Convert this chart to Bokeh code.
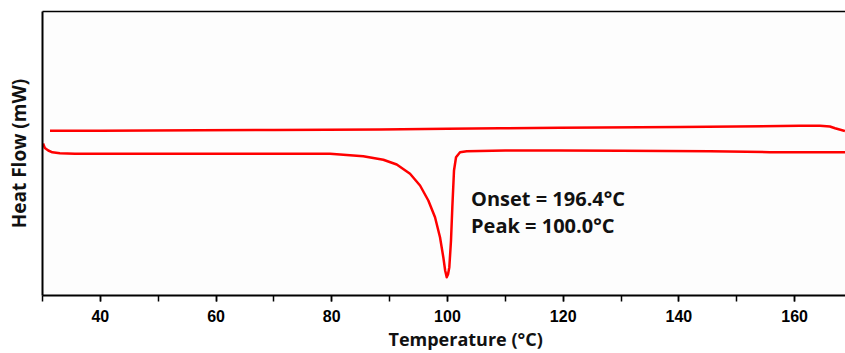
from bokeh.plotting import figure
from bokeh.models import (LinearAxis, FixedTicker, SingleIntervalTicker, Range1d, Label, Title)
from bokeh.embed import file_html
from bokeh.resources import INLINE

# Heating scan (lower curve with endothermic peak)
heat_temp = [30.1, 30.4, 31.0, 31.7, 33.0, 35.6, 45.0, 55.0, 65.0, 75.0, 79.7, 85.45,
             88.91, 91.23, 93.53, 95.26, 96.69, 97.85, 98.71, 99.28, 99.6, 99.87,
             100.1, 100.32, 100.61, 100.84, 101.13, 101.48, 102.17, 103.33, 110.0,
             119.4, 130.0, 145.4, 155.7, 168.8]
heat_flow = [0.28, 0.10, 0.00, -0.072, -0.112, -0.128, -0.132, -0.132, -0.132, -0.13,
             -0.132, -0.228, -0.372, -0.56, -0.932, -1.40, -2.00, -2.668, -3.468,
             -4.268, -4.80, -5.068, -4.95, -4.668, -3.60, -2.268, -0.80, -0.268,
             -0.068, -0.028, 0.0, 0.0, -0.008, -0.028, -0.068, -0.068]

# Cooling / return scan (upper curve)
cool_temp = [31.3, 40.0, 57.2, 70.0, 88.3, 100.0, 109.1, 119.4, 140.2, 160.9,
             164.4, 166.1, 167.0, 168.7]
cool_flow = [0.788, 0.792, 0.808, 0.82, 0.84, 0.868, 0.892, 0.908, 0.94, 0.988,
             0.992, 0.96, 0.892, 0.78]

annotations = ["Onset = 196.4°C", "Peak = 100.0°C"]
annot_temp = 104.07
annot_flow = [-1.92, -3.0]

x_start, x_end = 30.0, 168.8
y_start, y_end = -5.80, 5.56

p = figure(frame_width=803, frame_height=284, output_backend="svg", toolbar_location=None,
           x_range=Range1d(x_start, x_end), y_range=Range1d(y_start, y_end),
           y_axis_label="Heat Flow (mW)")
p.min_border_left = 42
p.min_border_right = 0
p.min_border_top = 11
p.min_border_bottom = 0
p.outline_line_color = None
p.grid.visible = False
p.background_fill_color = "#fdfdfd"
p.border_fill_color = "white"

red = "#ff0000"
p.line(cool_temp, cool_flow, line_color=red, line_width=2.5, line_join="round")
p.line(heat_temp, heat_flow, line_color=red, line_width=2.5, line_join="round")

for txt, yv in zip(annotations, annot_flow):
    p.add_layout(Label(x=annot_temp, y=yv, text=txt, text_font="Open Sans",
                       text_font_style="bold", text_font_size="20px",
                       text_color="#111111", text_baseline="alphabetic",
                       text_align="left"))

xa = p.xaxis[0]
xa.ticker = SingleIntervalTicker(interval=20, num_minor_ticks=2)
xa.axis_line_color = "black"
xa.axis_line_width = 2
xa.major_tick_line_width = 1.5
xa.minor_tick_line_width = 1.5
xa.major_tick_in = 0
xa.major_tick_out = 6
xa.minor_tick_in = 0
xa.minor_tick_out = 6
xa.major_label_text_font = "Liberation Sans"
xa.major_label_text_font_style = "bold"
xa.major_label_text_font_size = "16px"
xa.major_label_text_color = "black"
xa.major_label_standoff = 8

ya = p.yaxis[0]
ya.ticker = FixedTicker(ticks=[])
ya.axis_line_color = "black"
ya.axis_line_width = 2
ya.major_tick_out = 0
ya.minor_tick_out = 0
ya.axis_label_text_font = "Open Sans"
ya.axis_label_text_font_style = "bold"
ya.axis_label_text_font_size = "19px"
ya.axis_label_text_color = "#111111"
ya.axis_label_standoff = 11

top = LinearAxis(ticker=FixedTicker(ticks=[]), major_tick_out=0, minor_tick_out=0,
                 major_tick_in=0, minor_tick_in=0, axis_line_color="black",
                 axis_line_width=1.5, major_label_text_font_size="0px")
p.add_layout(top, "above")

xlabel = Title(text="Temperature (°C)", align="left", offset=346, standoff=0,
               text_font="Open Sans", text_font_style="bold", text_font_size="18px",
               text_color="#111111")
p.add_layout(xlabel, "below")

open("out.html", "w").write(file_html(p, INLINE))
